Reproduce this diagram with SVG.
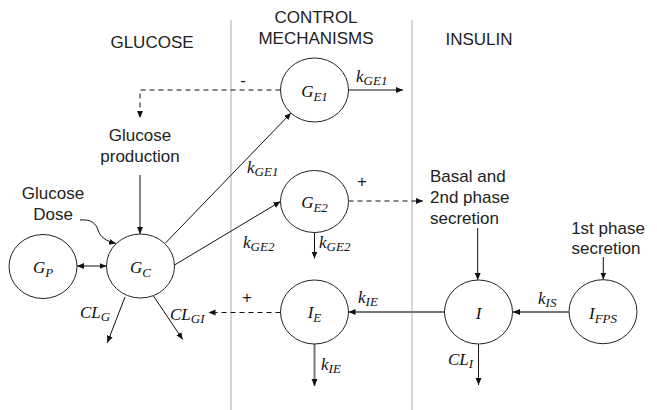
<svg xmlns="http://www.w3.org/2000/svg" width="657" height="410" viewBox="0 0 657 410">
<style>
.h{font-family:"Liberation Sans",Arial,sans-serif;font-size:17px;fill:#222}
.m{font-family:"Liberation Serif","Times New Roman",serif;font-style:italic;font-size:17px;fill:#111}
.s{font-size:13px}
.node{fill:#fff;stroke:#222;stroke-width:1}
.ln{stroke:#111;stroke-width:1;fill:none}
.dash{stroke-dasharray:5 4}
.gray{stroke:#777;stroke-width:2}
.sep{stroke:#c8c8c8;stroke-width:1.5}
</style>
<defs>
<marker id="a" markerUnits="userSpaceOnUse" markerWidth="8" markerHeight="7" refX="7" refY="3" orient="auto-start-reverse"><path d="M0,0 L7,3 L0,6 z" fill="#111"/></marker>
</defs>
<rect width="657" height="410" fill="#fff"/>
<g id="separators">
<line class="sep" x1="231" y1="20" x2="231" y2="410"/>
<line class="sep" x1="412" y1="20" x2="412" y2="410"/>
</g>
<g id="headings" class="h" text-anchor="middle">
<text x="152" y="48">GLUCOSE</text>
<text x="316" y="23">CONTROL</text>
<text x="316" y="44">MECHANISMS</text>
<text x="479" y="45">INSULIN</text>
</g>
<g id="connectors">
<line class="ln" x1="348.5" y1="90" x2="403" y2="90" marker-end="url(#a)"/>
<polyline class="ln dash" points="280.5,90 140,90 140,118" marker-end="url(#a)"/>
<line class="ln" x1="140" y1="175" x2="140" y2="234" marker-end="url(#a)"/>
<path class="ln" d="M80,220 C92,219 96,224 98,230 C100,237 106,241 116,243.5" marker-end="url(#a)"/>
<line class="ln" x1="77" y1="266" x2="106.5" y2="266" marker-start="url(#a)" marker-end="url(#a)"/>
<line class="ln" x1="165.5" y1="243" x2="291" y2="113" marker-end="url(#a)"/>
<line class="ln" x1="174.5" y1="265" x2="280.5" y2="201.5" marker-end="url(#a)"/>
<line class="ln" x1="314.5" y1="232" x2="314.5" y2="258.5" marker-end="url(#a)"/>
<line class="ln dash" x1="348.5" y1="201" x2="423" y2="201" marker-end="url(#a)"/>
<line class="ln" x1="477.7" y1="228" x2="477.7" y2="280" marker-end="url(#a)"/>
<line class="ln" x1="603.3" y1="257" x2="603.3" y2="279.5" marker-end="url(#a)"/>
<line class="ln gray" x1="569" y1="312" x2="513" y2="312" marker-end="url(#a)"/>
<line class="ln gray" x1="444.5" y1="312" x2="348.5" y2="312" marker-end="url(#a)"/>
<line class="ln" x1="478.5" y1="344" x2="478.5" y2="385" marker-end="url(#a)"/>
<line class="ln gray" x1="314.5" y1="344" x2="314.5" y2="386" marker-end="url(#a)"/>
<line class="ln dash" x1="280.5" y1="312.5" x2="208.5" y2="312.5" marker-end="url(#a)"/>
<line class="ln" x1="153.5" y1="296" x2="182.7" y2="339.5" marker-end="url(#a)"/>
<line class="ln" x1="125" y1="297" x2="107.3" y2="342.7" marker-end="url(#a)"/>
</g>
<g id="connector-labels">
<text class="m" x="356" y="82">k<tspan class="s" dy="3">GE1</tspan></text>
<text class="m" x="247" y="173">k<tspan class="s" dy="3">GE1</tspan></text>
<text class="m" x="243" y="248">k<tspan class="s" dy="3">GE2</tspan></text>
<text class="m" x="319" y="248">k<tspan class="s" dy="3">GE2</tspan></text>
<text class="m" x="358" y="303">k<tspan class="s" dy="3">IE</tspan></text>
<text class="m" x="321" y="370">k<tspan class="s" dy="3">IE</tspan></text>
<text class="m" x="538" y="304">k<tspan class="s" dy="3">IS</tspan></text>
<text class="m" x="448" y="365">CL<tspan class="s" dy="3">I</tspan></text>
<text class="m" x="80" y="318">CL<tspan class="s" dy="3">G</tspan></text>
<text class="m" x="170" y="320">CL<tspan class="s" dy="3">GI</tspan></text>
<text class="h" x="243" y="86" text-anchor="middle" font-size="15">-</text>
<text class="h" x="362" y="187" text-anchor="middle" font-size="15">+</text>
<text class="h" x="247" y="303" text-anchor="middle" font-size="15">+</text>
</g>
<g id="glucose-production" class="h" text-anchor="middle">
<text x="140" y="140.5">Glucose</text>
<text x="140" y="161.5">production</text>
</g>
<g id="glucose-dose" class="h" text-anchor="middle">
<text x="53" y="198.5">Glucose</text>
<text x="53" y="219.5">Dose</text>
</g>
<g id="basal-secretion" class="h">
<text x="430" y="181.5">Basal and</text>
<text x="430" y="202.5">2nd phase</text>
<text x="430" y="224">secretion</text>
</g>
<g id="first-phase-secretion" class="h" text-anchor="middle">
<text x="608" y="233.5">1st phase</text>
<text x="606" y="253.5">secretion</text>
</g>
<g id="node-GE1"><ellipse class="node" cx="314.5" cy="90" rx="34" ry="32"/><text class="m" x="314.5" y="96.5" text-anchor="middle">G<tspan class="s" dy="4">E1</tspan></text></g>
<g id="node-GE2"><ellipse class="node" cx="314.5" cy="201.5" rx="34" ry="31"/><text class="m" x="314.5" y="208" text-anchor="middle">G<tspan class="s" dy="4">E2</tspan></text></g>
<g id="node-IE"><ellipse class="node" cx="314.5" cy="312" rx="34" ry="32"/><text class="m" x="314.5" y="318" text-anchor="middle">I<tspan class="s" dy="4">E</tspan></text></g>
<g id="node-GC"><ellipse class="node" cx="140.5" cy="266" rx="34" ry="32"/><text class="m" x="140.5" y="272.5" text-anchor="middle">G<tspan class="s" dy="4">C</tspan></text></g>
<g id="node-GP"><ellipse class="node" cx="43" cy="266.5" rx="34" ry="32"/><text class="m" x="43" y="272.5" text-anchor="middle">G<tspan class="s" dy="4">P</tspan></text></g>
<g id="node-I"><ellipse class="node" cx="478.5" cy="312" rx="34" ry="32"/><text class="m" x="478.5" y="318.5" text-anchor="middle">I</text></g>
<g id="node-IFPS"><ellipse class="node" cx="603" cy="311.7" rx="34" ry="32"/><text class="m" x="603" y="318.5" text-anchor="middle">I<tspan class="s" dy="4">FPS</tspan></text></g>
</svg>
